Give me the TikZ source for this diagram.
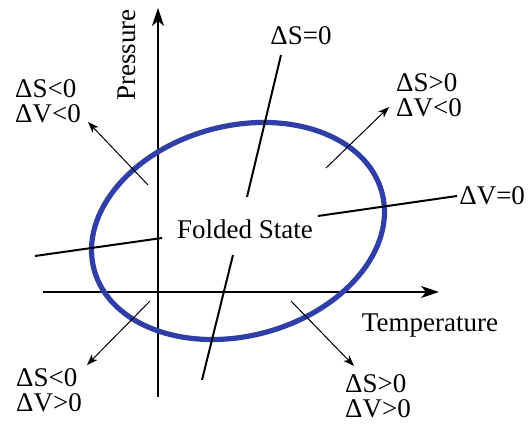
\documentclass[tikz,border=0pt]{standalone}
\usepackage{fontspec}
\setmainfont{Liberation Serif}
\usetikzlibrary{arrows.meta}
\definecolor{foldblue}{RGB}{48,62,168}
\tikzset{
  axis/.style={line width=0.8pt,-{Stealth[length=9pt,width=6pt,inset=2.5pt]}},
  zeroline/.style={line width=1pt},
  shiftarrow/.style={line width=0.5pt,-{Stealth[length=5.5pt,width=4pt,inset=1.5pt]}},
  fold/.style={line width=2.6pt,draw=foldblue},
  lbl/.style={inner sep=0pt,align=left}
}
\begin{document}
\begin{tikzpicture}[x=0.5pt,y=-0.5pt,font=\fontsize{13.5}{12.5}\selectfont]
        \useasboundingbox (0,0) rectangle (532,426);
        % axes
        \coordinate (Pbot) at (158,397);
        \coordinate (Ptop) at (158,8);
        \coordinate (Tleft) at (43,292);
        \coordinate (Tright) at (439,292);
        \draw[axis] (Pbot) -- (Ptop);
        \draw[axis] (Tleft) -- (Tright);
        \node[rotate=90] (Pressure) at (127,55){Pressure};
        \node (Temperature) at (430,326){Temperature};

        % folded state
        \draw[fold,rotate around={15:(238,231)}] (238,231) ellipse [x radius=149, y radius=105];
        \node (Folded) at (245,229){Folded State};

        % zero lines
        \coordinate (S0top) at (281,55);
        \coordinate (S0mid) at (247,197);
        \coordinate (S0low) at (233,255);
        \coordinate (S0bot) at (202,380);
        \draw[zeroline] (S0top) -- (S0mid);
        \draw[zeroline] (S0low) -- (S0bot);
        \node (S0) at (301,36){ΔS=0};

        \coordinate (V0left) at (35,256);
        \coordinate (V0mid) at (162,238);
        \coordinate (V0rgt) at (318,216);
        \coordinate (V0end) at (457,196);
        \draw[zeroline] (V0left) -- (V0mid);
        \draw[zeroline] (V0rgt) -- (V0end);
        \node[anchor=west,inner sep=1pt] (V0) at (V0end){ΔV=0};

        % shifts
        \node[lbl] (NW) at (48,101){ΔS<0\\ΔV<0};
        \node[lbl] (NE) at (429,95){ΔS>0\\ΔV<0};
        \node[lbl] (SW) at (49,390){ΔS<0\\ΔV>0};
        \node[lbl] (SE) at (378,396){ΔS>0\\ΔV>0};
        \coordinate (NWfrom) at (148,185);
        \coordinate (NWto) at (88,122);
        \coordinate (NEfrom) at (326,168);
        \coordinate (NEto) at (389,107);
        \coordinate (SWfrom) at (150,301);
        \coordinate (SWto) at (87,365);
        \coordinate (SEfrom) at (291,301);
        \coordinate (SEto) at (354,366);
        \draw[shiftarrow] (NWfrom) -- (NWto);
        \draw[shiftarrow] (NEfrom) -- (NEto);
        \draw[shiftarrow] (SWfrom) -- (SWto);
        \draw[shiftarrow] (SEfrom) -- (SEto);
\end{tikzpicture}
\end{document}
